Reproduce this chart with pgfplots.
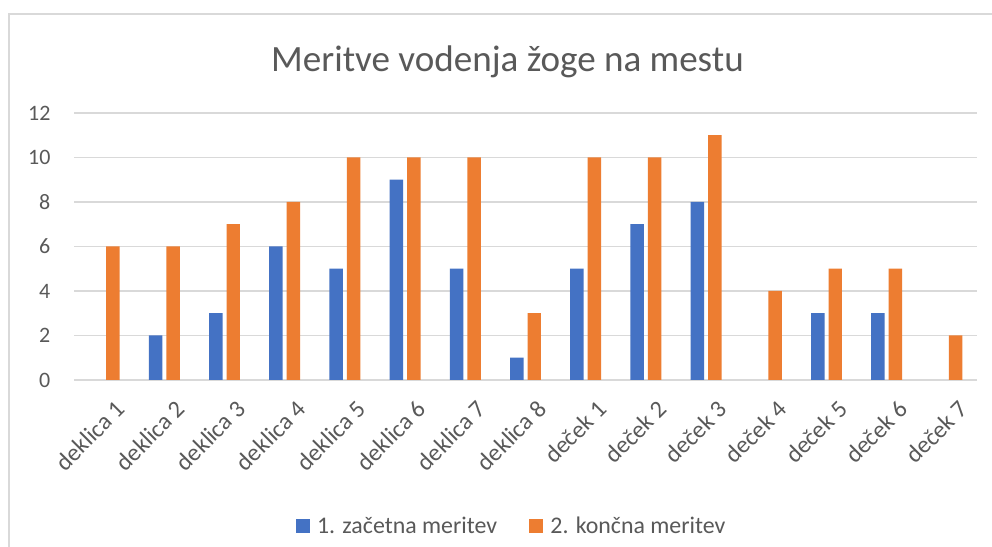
\documentclass[border=0pt]{standalone}
\usepackage{fontspec}
\setmainfont{Carlito}
\usepackage{pgfplots}
\usepackage{pgfplotstable}
\pgfplotsset{compat=1.18}
\definecolor{cblue}{HTML}{4472C4}
\definecolor{corange}{HTML}{ED7D31}
\definecolor{ctext}{HTML}{595959}
\definecolor{cgrid}{HTML}{D9D9D9}
\pgfplotstableread{
x a b
0 0 6
1 2 6
2 3 7
3 6 8
4 5 10
5 9 10
6 5 10
7 1 3
8 5 10
9 7 10
10 8 11
11 0 4
12 3 5
13 3 5
14 0 2
}\data
\newcommand\tfont{\fontsize{16.5}{20}\selectfont}
\newcommand\xfont{\fontsize{18.2}{22}\selectfont}
\begin{document}
\begin{tikzpicture}
\useasboundingbox (0,0) rectangle (744pt,409.5pt);
\fill[white] (0,0) rectangle (744pt,409.5pt);
\draw[cgrid, line width=1pt] (6.75pt,-2pt) -- (6.75pt,399pt) -- (746pt,399pt);
\node[anchor=base, text=ctext, font=\fontsize{27.8}{33}\selectfont, inner sep=0pt] at (380.6pt,355.5pt) {Meritve vodenja žoge na mestu};
\begin{axis}[
  at={(55.5pt,124.5pt)}, anchor=south west,
  scale only axis, width=677.25pt, height=200.25pt,
  xmin=-0.5, xmax=14.5, ymin=0, ymax=12,
  ytick={0,2,...,12},
  xtick={0,1,...,14},
  xticklabels={deklica 1,deklica 2,deklica 3,deklica 4,deklica 5,deklica 6,deklica 7,deklica 8,deček 1,deček 2,deček 3,deček 4,deček 5,deček 6,deček 7},
  /pgf/number format/assume math mode=true,
  ymajorgrids, grid style={cgrid, line width=1pt},
  axis x line*=bottom, axis y line*=left,
  x axis line style={cgrid, line width=1pt, -},
  y axis line style={draw=none},
  major tick length=0pt,
  yticklabel style={text=ctext, font=\tfont, anchor=east, inner sep=0pt, xshift=-17.5pt},
  xticklabel style={text=ctext, font=\xfont, rotate=45, anchor=north east, inner sep=0pt, yshift=-15.5pt, xshift=-4.5pt},
  ybar=3pt, bar width=10.1pt,
  legend columns=2,
  legend style={at={(0.485,-0.547)}, anchor=center, draw=none, fill=none,
    font=\fontsize{17.9}{21}\selectfont, text=ctext,
    /tikz/every even column/.append style={column sep=22pt}},
]
\addplot[fill=cblue, draw=none, restrict y to domain=0.5:100, legend image code/.code={\fill[cblue] (0pt,-5.25pt) rectangle (10.5pt,5.25pt); \path (14pt,0pt);}] table[x=x,y=a]{\data};
\addplot[fill=corange, draw=none, legend image code/.code={\fill[corange] (0pt,-5.25pt) rectangle (10.5pt,5.25pt); \path (14pt,0pt);}] table[x=x,y=b]{\data};
\legend{1. začetna meritev,2. končna meritev}
\end{axis}
\end{tikzpicture}
\end{document}
